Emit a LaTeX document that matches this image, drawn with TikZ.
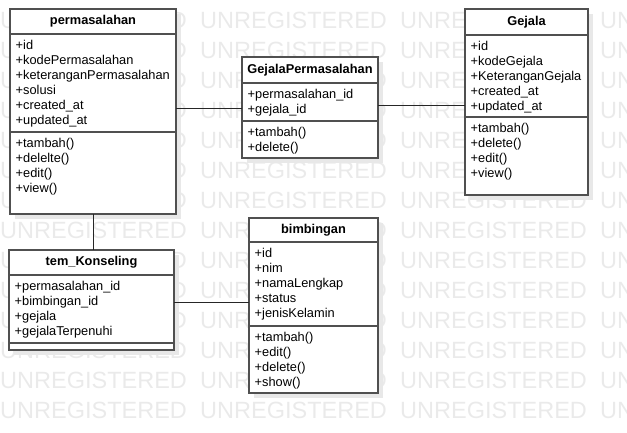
\documentclass[tikz,border=0pt]{standalone}
\usepackage{fontspec}
\setmainfont{Liberation Sans}
\usetikzlibrary{positioning}
\usetikzlibrary{shadows}
\definecolor{boxgray}{HTML}{505050}
\definecolor{shadowgray}{HTML}{E8E8E8}
\definecolor{markgray}{HTML}{EAEAEA}
\tikzset{part/.style = {draw=boxgray, line width=1.3, fill=white, inner sep=0, outer sep=0,
                        general shadow={fill=shadowgray, shadow xshift=5pt, shadow yshift=-5pt}}}
\tikzset{classname/.style = {part, anchor=north west, font=\bfseries\fontsize{12.8}{15}\selectfont}}
\tikzset{members/.style = {inner sep=0, align=left, font=\fontsize{12.8}{15}\selectfont}}
\tikzset{link/.style = {draw=black!85, line width=1}}
\tikzset{watermark/.style = {anchor=west, inner sep=0, text=markgray, font=\fontsize{23.5}{24}\selectfont}}

\begin{document}
\begin{tikzpicture}[x=1pt, y=-1pt]
      \useasboundingbox (0, 0) rectangle (627, 433);
      \begin{scope}
        \clip (0, 0) rectangle (627, 433);
        \foreach \row in {0,...,13}
          \foreach \col in {0,...,3}
            \node [watermark] (wm-\row-\col) at (200*\col, 20+30*\row) {UNREGISTERED};
      \end{scope}

      % permasalahan
      \node [classname, minimum width=166, minimum height=25] (permasalahan) at (10, 9) {permasalahan};
      \node [part, minimum width=166, minimum height=98, below=0pt of permasalahan] (permasalahan-attr) {};
      \node [part, minimum width=166, minimum height=82, below=0pt of permasalahan-attr] (permasalahan-op) {};
      \node [members, below right=6pt and 5.5pt of permasalahan-attr.north west] (permasalahan-attr-text)
        {+id\\+kodePermasalahan\\+keteranganPermasalahan\\+solusi\\+created\_at\\+updated\_at};
      \node [members, below right=6pt and 5.5pt of permasalahan-op.north west] (permasalahan-op-text)
        {+tambah()\\+delelte()\\+edit()\\+view()};

      % GejalaPermasalahan
      \node [classname, minimum width=136, minimum height=26] (gejalaperm) at (242, 57) {GejalaPermasalahan};
      \node [part, minimum width=136, minimum height=38, below=0pt of gejalaperm] (gejalaperm-attr) {};
      \node [part, minimum width=136, minimum height=37, below=0pt of gejalaperm-attr] (gejalaperm-op) {};
      \node [members, below right=6pt and 5.5pt of gejalaperm-attr.north west] (gejalaperm-attr-text)
        {+permasalahan\_id\\+gejala\_id};
      \node [members, below right=6pt and 5.5pt of gejalaperm-op.north west] (gejalaperm-op-text)
        {+tambah()\\+delete()};

      % Gejala
      \node [classname, minimum width=123, minimum height=26] (gejala) at (465, 9) {Gejala};
      \node [part, minimum width=123, minimum height=82, below=0pt of gejala] (gejala-attr) {};
      \node [part, minimum width=123, minimum height=78, below=0pt of gejala-attr] (gejala-op) {};
      \node [members, below right=6pt and 5.5pt of gejala-attr.north west] (gejala-attr-text)
        {+id\\+kodeGejala\\+KeteranganGejala\\+created\_at\\+updated\_at};
      \node [members, below right=6pt and 5.5pt of gejala-op.north west] (gejala-op-text)
        {+tambah()\\+delete()\\+edit()\\+view()};

      % tem_Konseling
      \node [classname, minimum width=165, minimum height=25] (konseling) at (9, 250) {tem\_Konseling};
      \node [part, minimum width=165, minimum height=68, below=0pt of konseling] (konseling-attr) {};
      \node [part, minimum width=165, minimum height=7, below=0pt of konseling-attr] (konseling-op) {};
      \node [members, below right=6pt and 5.5pt of konseling-attr.north west] (konseling-attr-text)
        {+permasalahan\_id\\+bimbingan\_id\\+gejala\\+gejalaTerpenuhi};

      % bimbingan
      \node [classname, minimum width=129, minimum height=24] (bimbingan) at (249, 218) {bimbingan};
      \node [part, minimum width=129, minimum height=84, below=0pt of bimbingan] (bimbingan-attr) {};
      \node [part, minimum width=129, minimum height=67, below=0pt of bimbingan-attr] (bimbingan-op) {};
      \node [members, below right=6pt and 5.5pt of bimbingan-attr.north west] (bimbingan-attr-text)
        {+id\\+nim\\+namaLengkap\\+status\\+jenisKelamin};
      \node [members, below right=6pt and 5.5pt of bimbingan-op.north west] (bimbingan-op-text)
        {+tambah()\\+edit()\\+delete()\\+show()};

      % relations
      \draw [link] ([yshift=-7pt]gejalaperm-attr.west) -- ([yshift=-7pt]gejalaperm-attr.west -| permasalahan-attr.east);
      \draw [link] ([yshift=-4pt]gejalaperm-attr.east) -- ([yshift=-4pt]gejalaperm-attr.east -| gejala-attr.west);
      \draw [link] (permasalahan-op.south) -- (permasalahan-op.south |- konseling.north);
      \draw [link] ([yshift=7pt]konseling-attr.east) -- ([yshift=7pt]konseling-attr.east -| bimbingan-attr.west);
\end{tikzpicture}
\end{document}
